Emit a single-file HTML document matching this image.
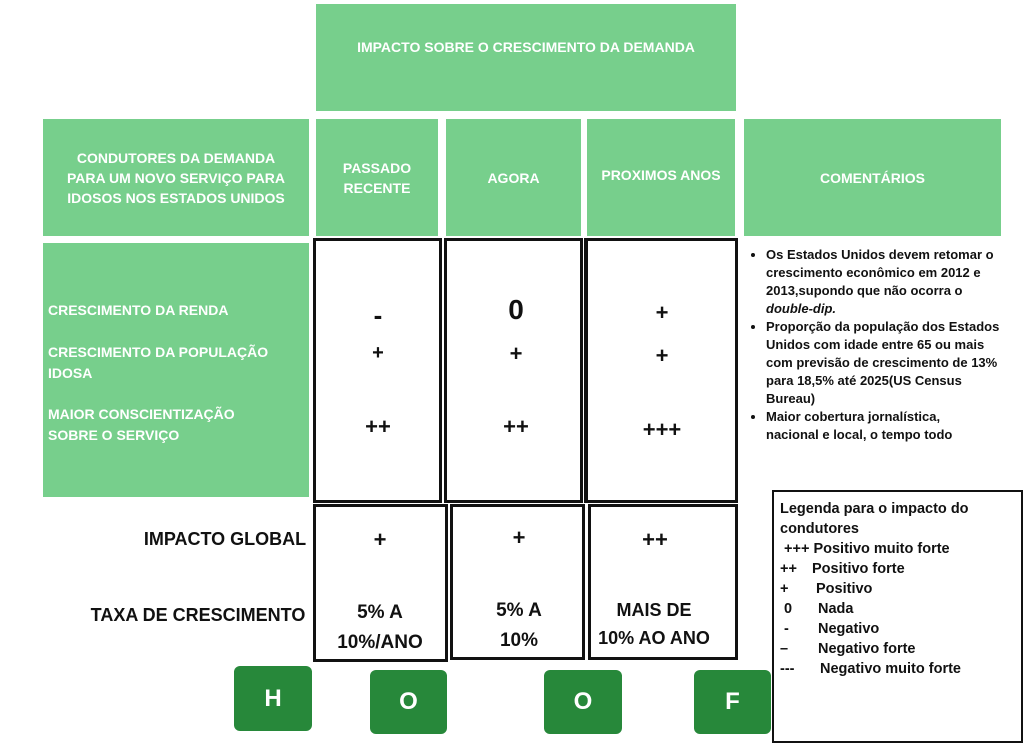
<!DOCTYPE html>
<html><head><meta charset="utf-8"><style>
*{margin:0;padding:0;box-sizing:border-box}
body{width:1024px;height:744px;background:#fff;position:relative;overflow:hidden;font-family:"Liberation Sans",sans-serif;font-weight:bold}
.g{position:absolute;background:#77cf8c;color:#fff;display:flex;align-items:center;justify-content:center;text-align:center;font-size:14px;line-height:20px}
.b{position:absolute;border:3px solid #111;background:#fff}
.t{position:absolute;color:#111;text-align:center;transform:translateX(-50%);white-space:nowrap}
.lbl{position:absolute;color:#fff;font-size:14px;line-height:21px}
.btn{position:absolute;background:#27883a;color:#fff;border-radius:6px;font-size:24px;display:flex;align-items:center;justify-content:center}
ul{position:absolute;left:748px;top:246px;width:276px;font-size:13px;line-height:18px;color:#111;padding-left:18px;white-space:nowrap}
.leg{position:absolute;left:772px;top:490px;width:251px;height:253px;border:2.5px solid #111;font-size:14.5px;line-height:20px;padding:7px 0 0 6px;color:#111;white-space:nowrap}
.leg span{display:inline-block}
</style></head><body>
<div class="g" style="left:316px;top:4px;width:420px;height:107px;padding-bottom:22px">IMPACTO SOBRE O CRESCIMENTO DA DEMANDA</div>
<div class="g" style="left:43px;top:119px;width:266px;height:117px">CONDUTORES DA DEMANDA<br>PARA UM NOVO SERVIÇO PARA<br>IDOSOS NOS ESTADOS UNIDOS</div>
<div class="g" style="left:316px;top:119px;width:122px;height:117px">PASSADO<br>RECENTE</div>
<div class="g" style="left:446px;top:119px;width:135px;height:117px">AGORA</div>
<div class="g" style="left:587px;top:119px;width:148px;height:117px;padding-bottom:6px">PROXIMOS ANOS</div>
<div class="g" style="left:744px;top:119px;width:257px;height:117px">COMENTÁRIOS</div>
<div class="g" style="left:43px;top:243px;width:266px;height:254px"></div>
<div class="lbl" style="left:48px;top:300px">CRESCIMENTO DA RENDA</div>
<div class="lbl" style="left:48px;top:342px">CRESCIMENTO DA POPULAÇÃO<br>IDOSA</div>
<div class="lbl" style="left:48px;top:404px">MAIOR CONSCIENTIZAÇÃO<br>SOBRE O SERVIÇO</div>

<div class="b" style="left:313px;top:238px;width:129px;height:265px"></div>
<div class="b" style="left:444px;top:238px;width:139px;height:265px"></div>
<div class="b" style="left:584px;top:238px;width:154px;height:265px;border-left-width:4px"></div>
<div class="b" style="left:313px;top:504px;width:135px;height:158px"></div>
<div class="b" style="left:450px;top:504px;width:135px;height:156px"></div>
<div class="b" style="left:588px;top:504px;width:150px;height:156px"></div>

<div class="t" style="left:378px;top:300px;font-size:26px">-</div>
<div class="t" style="left:516px;top:294px;font-size:28px">0</div>
<div class="t" style="left:662px;top:300px;font-size:22px">+</div>
<div class="t" style="left:378px;top:342px;font-size:20px">+</div>
<div class="t" style="left:516px;top:341px;font-size:22px">+</div>
<div class="t" style="left:662px;top:343px;font-size:22px">+</div>
<div class="t" style="left:378px;top:414px;font-size:22px">++</div>
<div class="t" style="left:516px;top:414px;font-size:22px">++</div>
<div class="t" style="left:662px;top:417px;font-size:22px">+++</div>

<div class="t" style="left:225px;top:529px;font-size:18px">IMPACTO GLOBAL</div>
<div class="t" style="left:198px;top:605px;font-size:18px">TAXA DE CRESCIMENTO</div>
<div class="t" style="left:380px;top:527px;font-size:22px">+</div>
<div class="t" style="left:519px;top:525px;font-size:22px">+</div>
<div class="t" style="left:655px;top:527px;font-size:22px">++</div>
<div class="t" style="left:380px;top:598px;font-size:19px;line-height:30px">5% A<br>10%/ANO</div>
<div class="t" style="left:519px;top:596px;font-size:19px;line-height:30px">5% A<br>10%</div>
<div class="t" style="left:654px;top:596px;font-size:18px;line-height:28px">MAIS DE<br>10% AO ANO</div>

<div class="btn" style="left:234px;top:666px;width:78px;height:65px">H</div>
<div class="btn" style="left:370px;top:670px;width:77px;height:64px">O</div>
<div class="btn" style="left:544px;top:670px;width:78px;height:64px">O</div>
<div class="btn" style="left:694px;top:670px;width:77px;height:64px">F</div>

<ul>
<li>Os Estados Unidos devem retomar o<br>crescimento econômico em 2012 e<br>2013,supondo que não ocorra o<br><i>double-dip.</i></li>
<li>Proporção da população dos Estados<br>Unidos com idade entre 65 ou mais<br>com previsão de crescimento de 13%<br>para 18,5% até 2025(US Census<br>Bureau)</li>
<li>Maior cobertura jornalística,<br>nacional e local, o tempo todo</li>
</ul>

<div class="leg">Legenda para o impacto do<br>condutores<br>
&nbsp;+++ Positivo muito forte<br>
<span style="width:32px">++</span>Positivo forte<br>
<span style="width:36px">+</span>Positivo<br>
<span style="width:38px">&nbsp;0</span>Nada<br>
<span style="width:38px">&nbsp;-</span>Negativo<br>
<span style="width:38px">–</span>Negativo forte<br>
<span style="width:40px">---</span>Negativo muito forte</div>
</body></html>
